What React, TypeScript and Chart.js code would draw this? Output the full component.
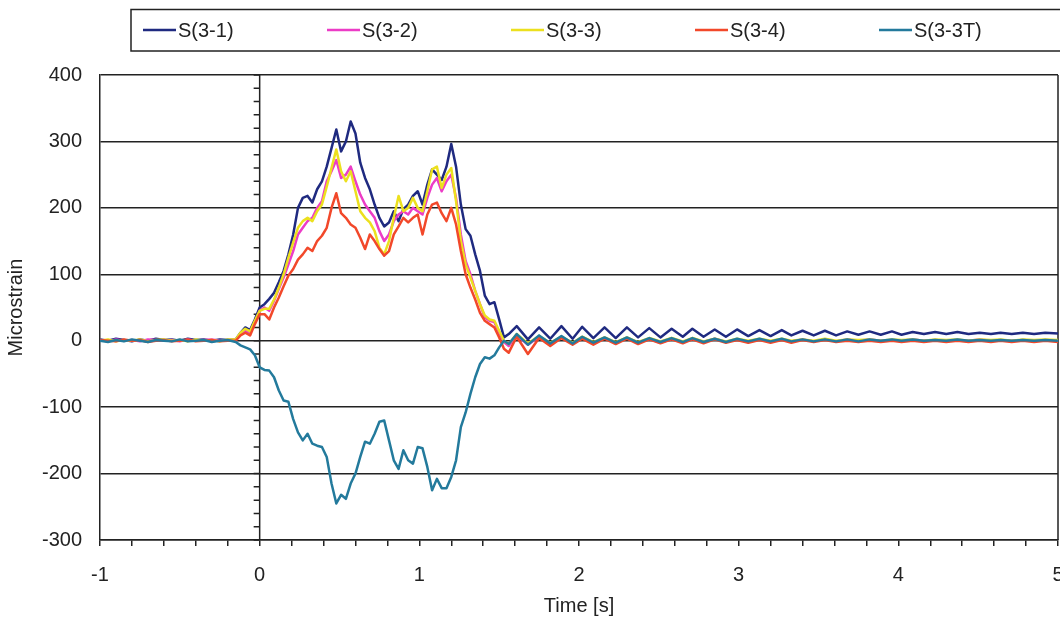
import React, { useEffect, useRef } from "react";
import { Chart, registerables } from "chart.js";

Chart.register(...registerables);

// Time samples [s]
const times = [
  // pre-load baseline
  -1.0, -0.95, -0.9, -0.85, -0.8, -0.75, -0.7, -0.65, -0.6, -0.55, -0.5, -0.45, -0.4, -0.35, -0.3, -0.25, -0.2,
  // onset
  -0.15, -0.12, -0.09, -0.06, -0.03,
  // loading pulse
  0, 0.03, 0.06, 0.09, 0.12, 0.15, 0.18, 0.21, 0.24, 0.27, 0.3, 0.33, 0.36, 0.39, 0.42, 0.45, 0.48, 0.51, 0.54, 0.57,
  0.6, 0.63, 0.66, 0.69, 0.72, 0.75, 0.78, 0.81, 0.84, 0.87, 0.9, 0.93, 0.96, 0.99, 1.02, 1.05, 1.08, 1.11, 1.14, 1.17,
  1.2, 1.23, 1.26, 1.29, 1.32, 1.35, 1.38, 1.41, 1.44, 1.47, 1.5, 1.53, 1.56,
  // free vibration tail
  1.61, 1.68, 1.75, 1.82, 1.89, 1.96, 2.02, 2.09, 2.16, 2.23, 2.3, 2.37, 2.44, 2.51, 2.58, 2.65, 2.71, 2.78, 2.85, 2.92,
  2.99, 3.06, 3.13, 3.2, 3.27, 3.33, 3.4, 3.47, 3.54, 3.61, 3.68, 3.75, 3.82, 3.89, 3.96, 4.02, 4.09, 4.16, 4.23, 4.3,
  4.37, 4.44, 4.51, 4.58, 4.64, 4.71, 4.78, 4.85, 4.92, 5.0,
];

const seriesLabels = ["S(3-1)", "S(3-2)", "S(3-3)", "S(3-4)", "S(3-3T)"];
const seriesColors = ["#1f2a80", "#ec3cc6", "#ece01e", "#f2482a", "#237a9c"];

const s31 = [
  2, 0, 3, 1, -1, 2, 0, 3, 1, 2, 0, 3, 1, 2, 0, 2, 1,
  2, 12, 20, 16, 32,
  50, 55, 63, 72, 88, 105, 130, 160, 200, 215, 218, 208, 228, 240, 262, 290, 318, 285, 300, 330,
  312, 268, 245, 228, 205, 185, 172, 178, 195, 180, 198, 205, 218, 225, 205, 235, 258, 250, 242, 262,
  296, 262, 205, 168, 158, 130, 105, 68, 55, 58, 32, 5, 10,
  22, 2, 20, 3, 22, 3, 21, 4, 20, 4, 20, 5, 19, 5, 18, 6, 18, 6, 17, 6,
  17, 7, 16, 7, 16, 8, 15, 8, 15, 8, 14, 9, 14, 9, 14, 9, 13, 10, 13, 10,
  13, 10, 12, 10, 12, 10, 12, 10, 12, 11,
];

const s32 = [
  1, -1, 2, 0, 1, -1, 2, 1, 0, 1, -1, 2, 0, 1, 2, 0, 1,
  1, 10, 15, 12, 28,
  45, 50, 45, 60, 78, 95, 115, 135, 160, 170, 180, 185, 200, 210, 240, 255, 272, 245, 250, 262,
  240, 220, 205, 195, 185, 165, 150, 160, 180, 190, 195, 190, 200, 195, 190, 215, 235, 245, 225, 240,
  250, 215, 160, 120, 100, 75, 55, 35, 30, 28, 12, -2, -8,
  8, -6, 6, -5, 5, -4, 5, -4, 4, -3, 4, -3, 3, -3, 3, -2, 3, -2, 3, -2,
  2, -2, 2, -1, 2, -1, 2, -1, 2, -1, 2, 0, 2, 0, 1, 0, 2, 0, 1, 0,
  1, 0, 2, 0, 1, 0, 1, 0, 1, 0,
];

const s33 = [
  0, 2, -1, 1, 0, 2, -1, 1, 2, 0, 1, -1, 2, 0, 1, -1, 2,
  2, 12, 18, 14, 30,
  45, 48, 48, 62, 80, 100, 125, 148, 170, 180, 185, 180, 195, 205, 232, 260, 288, 255, 240, 255,
  225, 195, 185, 178, 165, 140, 130, 150, 185, 218, 195, 200, 215, 200, 195, 225, 258, 262, 230, 250,
  260, 210, 150, 115, 95, 75, 55, 38, 32, 30, 15, 0, -5,
  10, -4, 7, -3, 6, -3, 6, -2, 5, -2, 5, -2, 4, -1, 4, -1, 4, -1, 3, -1,
  3, 0, 3, 0, 3, 0, 2, 0, 3, 0, 2, 1, 2, 0, 2, 1, 2, 0, 2, 1,
  2, 0, 2, 1, 2, 0, 2, 1, 2, 1,
];

const s34 = [
  1, 0, -1, 2, 0, 1, -2, 0, 1, -1, 0, 2, -1, 0, 1, -1, 0,
  0, 8, 12, 8, 25,
  40, 40, 32, 50, 65, 82, 98, 108, 122, 130, 140, 135, 150, 158, 170, 200, 222, 192, 185, 175,
  170, 155, 138, 160, 150, 138, 128, 135, 160, 172, 185, 178, 185, 190, 160, 190, 205, 208, 192, 180,
  200, 175, 135, 100, 80, 62, 42, 30, 25, 20, 5, -12, -18,
  6, -20, 4, -8, 4, -6, 3, -6, 3, -5, 3, -5, 2, -4, 2, -4, 2, -4, 2, -3,
  1, -3, 1, -3, 1, -3, 1, -2, 1, -2, 0, -2, 0, -2, 0, -2, 0, -2, 0, -2,
  0, -2, 0, -2, 0, -2, 0, -2, 0, -2,
];

const s33T = [
  0, -2, 1, -1, 2, 0, -2, 1, 0, -1, 2, -1, 0, 1, -2, 0, 1,
  -2, -7, -10, -13, -22,
  -40, -44, -45, -55, -75, -90, -92, -118, -138, -150, -140, -155, -158, -160, -175, -215, -245, -232, -238, -215,
  -200, -175, -152, -155, -140, -122, -120, -150, -180, -193, -165, -180, -185, -160, -162, -190, -225, -208, -222, -222,
  -205, -180, -130, -108, -80, -55, -35, -25, -27, -22, -10, 0, -5,
  10, -6, 8, -4, 7, -4, 6, -3, 5, -3, 5, -3, 4, -2, 4, -2, 4, -2, 3, -2,
  3, -1, 3, -1, 3, -1, 2, -1, 2, -1, 2, -1, 2, 0, 2, 0, 2, 0, 1, 0,
  2, 0, 1, 0, 1, 0, 1, 0, 1, 0,
];

const seriesValues = [s31, s32, s33, s34, s33T];

const yMin = -300;
const yMax = 400;
const yStep = 100;
const yMinorStep = 20;
const xMin = -1;
const xMax = 5;
const xMinorStep = 0.2;

const FONT = "'Liberation Sans', Arial, Helvetica, sans-serif";
const INK = "#222222";

const framePlugin = {
  id: "frameDecor",
  beforeDatasetsDraw(chart: any) {
    const { ctx, chartArea, scales } = chart;
    const xs = scales.x;
    const ys = scales.y;
    const x0 = xs.getPixelForValue(0);
    ctx.save();
    ctx.strokeStyle = INK;
    ctx.lineWidth = 1.5;
    ctx.beginPath();
    ctx.moveTo(x0, chartArea.top);
    ctx.lineTo(x0, chartArea.bottom);
    ctx.moveTo(chartArea.right, chartArea.top);
    ctx.lineTo(chartArea.right, chartArea.bottom);
    for (let v = yMin; v <= yMax + 1e-9; v += yMinorStep) {
      const y = ys.getPixelForValue(v);
      ctx.moveTo(x0 - 6, y);
      ctx.lineTo(x0, y);
    }
    ctx.stroke();
    ctx.restore();
  },
};

const legendPlugin = {
  id: "boxLegend",
  afterDraw(chart: any) {
    const { ctx } = chart;
    ctx.save();
    ctx.strokeStyle = INK;
    ctx.lineWidth = 1.5;
    ctx.strokeRect(131, 9.5, 940, 41.5);
    const y = 30;
    ctx.font = `20px ${FONT}`;
    ctx.textBaseline = "middle";
    ctx.textAlign = "left";
    chart.data.datasets.forEach((ds: any, i: number) => {
      const x0 = 143 + i * 184;
      ctx.strokeStyle = ds.borderColor;
      ctx.lineWidth = 2.5;
      ctx.beginPath();
      ctx.moveTo(x0, y);
      ctx.lineTo(x0 + 33, y);
      ctx.stroke();
      ctx.fillStyle = INK;
      ctx.fillText(ds.label, x0 + 35, y + 1);
    });
    ctx.restore();
  },
};

export default function App() {
  const canvasRef = useRef<HTMLCanvasElement | null>(null);

  useEffect(() => {
    const canvas = canvasRef.current;
    if (!canvas) return;
    Chart.defaults.font.family = FONT;
    Chart.defaults.color = INK;

    const datasets = seriesValues.map((vals, i) => ({
      label: seriesLabels[i],
      data: vals.map((v, k) => ({ x: times[k], y: v })),
      borderColor: seriesColors[i],
      backgroundColor: seriesColors[i],
      borderWidth: 2.5,
      borderJoinStyle: "round" as const,
      pointRadius: 0,
      tension: 0,
      fill: false,
      order: seriesValues.length - i,
    }));

    const chart = new Chart(canvas, {
      type: "line",
      data: { datasets },
      plugins: [framePlugin, legendPlugin],
      options: {
        responsive: false,
        animation: false,
        parsing: true,
        layout: { padding: { top: 75, right: 2, left: 0, bottom: 0 } },
        plugins: {
          legend: { display: false },
          tooltip: { enabled: false },
        },
        scales: {
          x: {
            type: "linear",
            min: xMin,
            max: xMax,
            border: { display: true, color: INK, width: 1.5 },
            grid: {
              drawOnChartArea: false,
              drawTicks: true,
              tickLength: 6,
              color: INK,
              lineWidth: 1.5,
            },
            ticks: {
              stepSize: xMinorStep,
              autoSkip: false,
              maxRotation: 0,
              padding: 17,
              color: INK,
              font: { size: 20 },
              callback: (value: any) => {
                const v = Number(value);
                return Math.abs(v - Math.round(v)) < 1e-6 ? String(Math.round(v)) : "";
              },
            },
            title: {
              display: true,
              text: "Time [s]",
              color: INK,
              font: { size: 20 },
              padding: { top: 0, bottom: 1 },
            },
            afterFit: (scale: any) => {
              scale.height = 79;
              scale.paddingRight = 0;
              scale.paddingLeft = 0;
            },
          },
          y: {
            type: "linear",
            min: yMin,
            max: yMax,
            border: { display: true, color: INK, width: 1.5 },
            grid: {
              drawTicks: false,
              color: INK,
              lineWidth: 1.5,
            },
            ticks: {
              stepSize: yStep,
              padding: 18,
              color: INK,
              font: { size: 20 },
            },
            title: {
              display: true,
              text: "Microstrain",
              color: INK,
              font: { size: 20 },
              padding: { top: 4, bottom: 0 },
            },
            afterFit: (scale: any) => {
              scale.width = 100;
            },
          },
        },
      },
    });

    return () => chart.destroy();
  }, []);

  return (
    <div style={{ position: "absolute", left: 0, top: 0, width: 1060, height: 619, background: "#fff" }}>
      <canvas ref={canvasRef} width={1060} height={619} style={{ display: "block" }} />
    </div>
  );
}
